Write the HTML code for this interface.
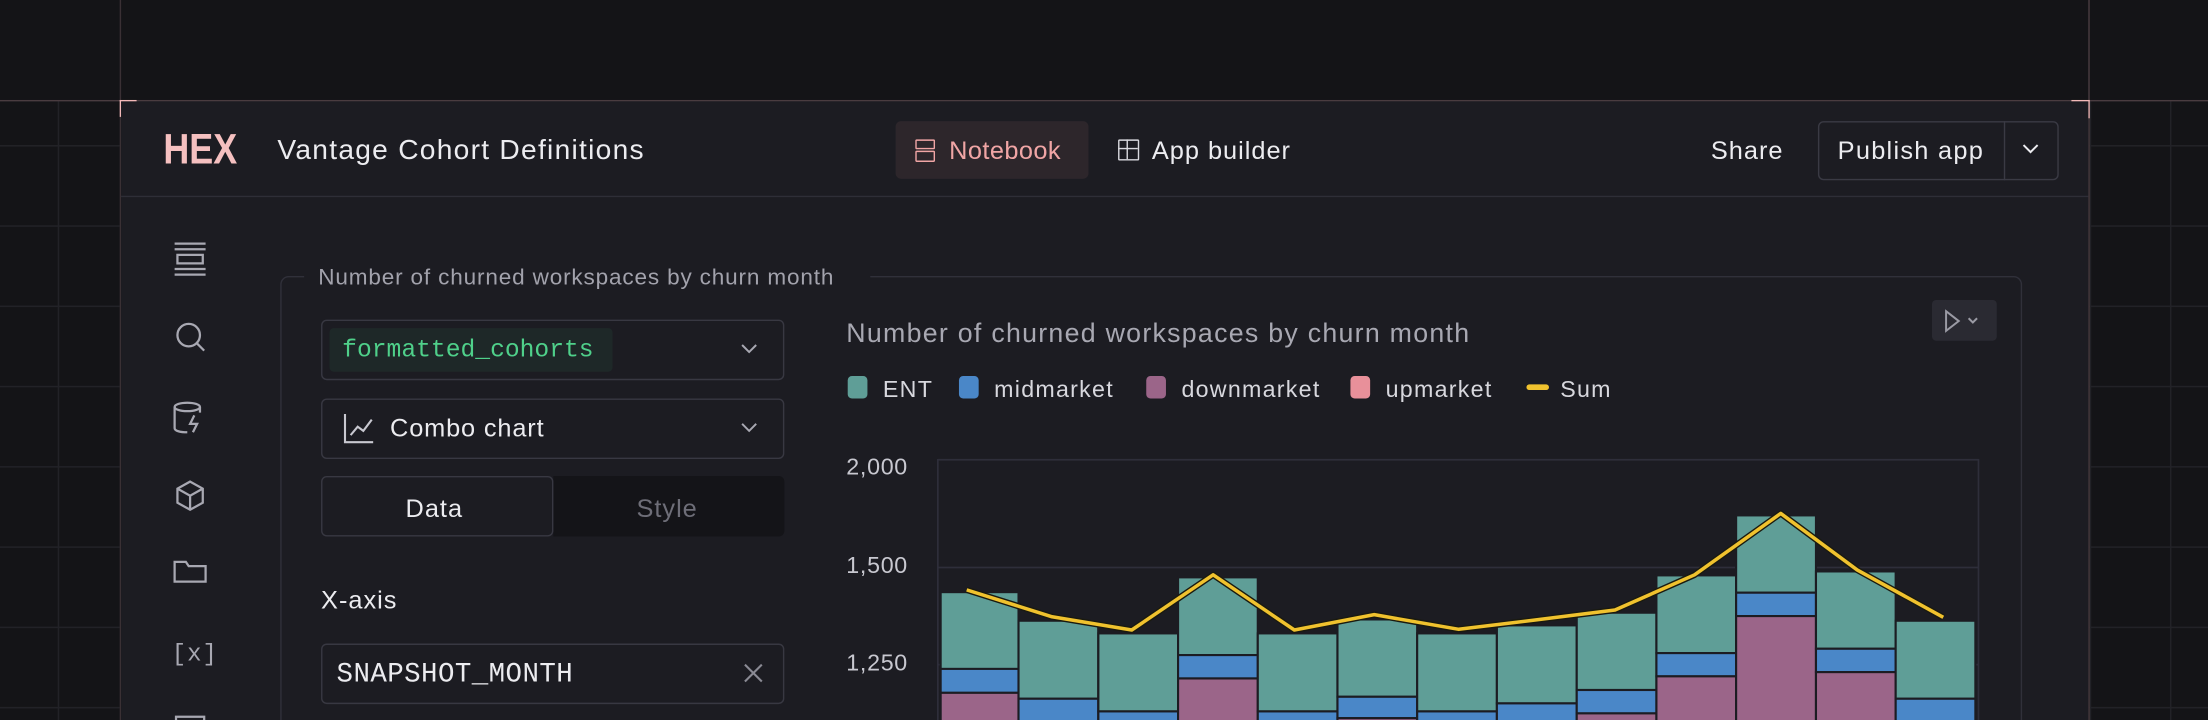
<!DOCTYPE html>
<html><head><meta charset="utf-8"><style>
html,body{margin:0;padding:0;background:#141417;width:2208px;height:720px;overflow:hidden}
#w{position:absolute;left:0;top:0;width:1568px;height:511.5px;overflow:hidden;transform:scale(1.408163);transform-origin:0 0;font-family:"Liberation Sans",sans-serif;background:#141417;letter-spacing:0.7px}
.a{position:absolute}
.grid{background-image:linear-gradient(#222227 1px,transparent 1px),linear-gradient(90deg,#222227 1px,transparent 1px);background-size:57px 57px;}
.t{position:absolute;white-space:nowrap}
.mono{font-family:"Liberation Mono",monospace;letter-spacing:0}
.box{position:absolute;border:1px solid #34343e;border-radius:4px;box-sizing:border-box}
</style></head><body><div id="w">
<div class="a grid" style="left:0;top:72px;width:85px;height:440px;background-position:41px 31px"></div>
<div class="a grid" style="left:1484px;top:72px;width:84px;height:440px;background-position:0 31px"></div>
<div class="a" style="left:0;top:71px;width:1568px;height:1px;background:#4a3c40"></div>
<div class="a" style="left:85px;top:0;width:1px;height:512px;background:#3a3034"></div>
<div class="a" style="left:1483px;top:0;width:1px;height:512px;background:#4a3c40"></div>
<div class="a" style="left:85px;top:71px;width:12px;height:1px;background:#f2b8b8"></div>
<div class="a" style="left:85px;top:71px;width:1px;height:12px;background:#f2b8b8"></div>
<div class="a" style="left:1471px;top:71px;width:13px;height:1px;background:#f2b8b8"></div>
<div class="a" style="left:1483px;top:71px;width:1px;height:13px;background:#f2b8b8"></div>
<!-- panel -->
<div class="a" style="left:86px;top:72px;width:1397px;height:440px;background:#1c1c22"></div>
<div class="a" style="left:86px;top:139px;width:1397px;height:1px;background:#2e2e37"></div>
<div class="t" style="left:116px;top:90px;font:bold 30px 'Liberation Sans Narrow','Liberation Sans';color:#f5c0c0;letter-spacing:0;transform:scaleX(0.85);transform-origin:0 0">HEX</div>
<div class="t" style="left:197px;top:96px;font-size:20px;color:#ececf0;letter-spacing:0.9px">Vantage Cohort Definitions</div>
<div class="a" style="left:636px;top:86px;width:137px;height:41px;background:#2d262b;border-radius:4px"></div>
<div class="a" style="left:650px;top:99px;width:12px;height:5px;border:1.3px solid #f0a5a5;border-radius:1px"></div>
<div class="a" style="left:650px;top:107px;width:12px;height:6px;border:1.3px solid #f0a5a5;border-radius:1px"></div>
<div class="t" style="left:674px;top:97px;font-size:18px;color:#f0a5a5;letter-spacing:0.3px">Notebook</div>
<div class="a" style="left:794px;top:99px;width:13px;height:13px;border:1.3px solid #d8d8de;border-radius:1px"></div>
<div class="a" style="left:800px;top:99px;width:1.3px;height:14px;background:#d8d8de"></div>
<div class="a" style="left:794px;top:105px;width:14px;height:1.3px;background:#d8d8de"></div>
<div class="t" style="left:818px;top:97px;font-size:18px;color:#ececf0">App builder</div>
<div class="t" style="left:1215px;top:97px;font-size:18px;color:#ececf0">Share</div>
<div class="box" style="left:1291px;top:86px;width:171px;height:42px;border-color:#3a3a44"></div>
<div class="a" style="left:1423px;top:86px;width:1px;height:42px;background:#3a3a44"></div>
<div class="t" style="left:1305px;top:97px;font-size:18px;color:#ececf0;letter-spacing:0.9px">Publish app</div>
<svg class="a" style="left:1435px;top:101px" width="14" height="10" fill="none" stroke="#ececf0" stroke-width="1.4"><path d="M2 2l5 5 5-5"/></svg>
<!-- sidebar icons -->
<svg class="a" style="left:118px;top:165px" width="34" height="360" fill="none" stroke="#a8a8b2" stroke-width="1.6">
<path d="M6 8h22M6 12h22M8 16h18v6H8zM6 26h22M6 30h22"/>
<circle cx="16" cy="73" r="8"/><path d="M22 79l5 5"/>
<ellipse cx="15" cy="124" rx="9" ry="3"/><path d="M6 124v15c0 2 4 3 9 3M24 124v4M20 130l-3 6h5l-3 6"/>
<path d="M17 177l9 5v10l-9 5-9-5v-10zM8 182l9 5 9-5M17 187v10"/>
<path d="M6 234v14h22v-11H16l-2-3z"/>
<text x="4" y="304" font-family="Liberation Mono" font-size="17" fill="#a8a8b2" stroke="none">[x]</text>
<rect x="7" y="344" width="20" height="16"/>
</svg>
<!-- fieldset -->
<div class="box" style="left:199px;top:196px;width:1237px;height:340px;border-radius:6px;border-color:#30303a"></div>
<div class="a" style="left:216px;top:186px;width:402px;height:20px;background:#1c1c22"></div>
<div class="t" style="left:226px;top:189px;font-size:16px;color:#a2a2ac;letter-spacing:0.6px">Number of churned workspaces by churn month</div>
<div class="box" style="left:228px;top:227px;width:329px;height:43px;border-color:#383842"></div>
<div class="a" style="left:234px;top:233px;width:201px;height:31px;background:#1e2828;border-radius:3px"></div>
<div class="t mono" style="left:243px;top:239px;font-size:17.5px;color:#4fd08a">formatted_cohorts</div>
<svg class="a" style="left:525px;top:243px" width="14" height="10" fill="none" stroke="#a8a8b2" stroke-width="1.4"><path d="M2 2l5 5 5-5"/></svg>
<div class="box" style="left:228px;top:283px;width:329px;height:43px;border-color:#383842"></div>
<svg class="a" style="left:243px;top:292px" width="24" height="24" fill="none" stroke="#c8c8d0" stroke-width="1.5"><path d="M2 2v20h20M6 17l5-6 4 3 6-8"/></svg>
<div class="t" style="left:277px;top:294px;font-size:18px;color:#ececf0;letter-spacing:0.6px">Combo chart</div>
<svg class="a" style="left:525px;top:299px" width="14" height="10" fill="none" stroke="#a8a8b2" stroke-width="1.4"><path d="M2 2l5 5 5-5"/></svg>
<div class="a" style="left:393px;top:338px;width:164px;height:43px;background:#141418;border-radius:0 4px 4px 0"></div>
<div class="box" style="left:228px;top:338px;width:165px;height:43px;border-color:#383842;background:#1c1c22"></div>
<div class="t" style="left:288px;top:351px;font-size:18px;color:#ececf0">Data</div>
<div class="t" style="left:452px;top:351px;font-size:18px;color:#6e6e78">Style</div>
<div class="t" style="left:228px;top:416px;font-size:18px;color:#ececf0">X-axis</div>
<div class="box" style="left:228px;top:457px;width:329px;height:43px;border-color:#383842"></div>
<div class="t mono" style="left:239px;top:468px;font-size:19.5px;color:#ececf0;letter-spacing:0.3px">SNAPSHOT_MONTH</div>
<svg class="a" style="left:527px;top:470px" width="16" height="16" fill="none" stroke="#8a8a94" stroke-width="1.5"><path d="M2 2l12 12M14 2L2 14"/></svg>
<!-- chart -->
<div class="t" style="left:601px;top:227px;font-size:19px;color:#a8a8b2;letter-spacing:0.9px">Number of churned workspaces by churn month</div>
<div class="a" style="left:1372px;top:213px;width:46px;height:29px;background:#2a2a32;border-radius:3px"></div>
<svg class="a" style="left:1380px;top:219px" width="34" height="18" fill="none" stroke="#9a9aa4" stroke-width="1.4"><path d="M2 2l9 7-9 7z"/><path d="M18 7l3 3 3-3"/></svg>
<svg class="a" style="left:590px;top:255px" width="978" height="257">
<g font-family="Liberation Sans" font-size="16.5" fill="#d8d8de" letter-spacing="0.9">
<rect x="12" y="12" width="14" height="16" rx="3" fill="#5f9e97"/><text x="37" y="27">ENT</text>
<rect x="91" y="12" width="14" height="16" rx="3" fill="#4a87c8"/><text x="116" y="27">midmarket</text>
<rect x="224" y="12" width="14" height="16" rx="3" fill="#9b6589"/><text x="249" y="27">downmarket</text>
<rect x="369" y="12" width="14" height="16" rx="3" fill="#e8909a"/><text x="394" y="27">upmarket</text>
<rect x="494" y="18" width="16" height="4" rx="2" fill="#f0c22e"/><text x="518" y="27">Sum</text>
<g fill="#c8c8d0" letter-spacing="0.5"><text x="11" y="82">2,000</text><text x="11" y="152">1,500</text><text x="11" y="221">1,250</text></g>
</g>
</svg>
<svg class="a" style="left:0;top:0" width="1568" height="512">
<g stroke="#2e2e3a" stroke-width="1.2"><line x1="666" y1="326.5" x2="1405" y2="326.5"/><line x1="666" y1="403" x2="1405" y2="403"/><line x1="666" y1="472" x2="1405" y2="472"/><line x1="666" y1="326" x2="666" y2="512"/><line x1="1405" y1="326" x2="1405" y2="512"/></g>
<g stroke="#1c1c22" stroke-width="1.5">
<rect x="668" y="420.5" width="55.3" height="55" fill="#5f9e97"/><rect x="668" y="475" width="55.3" height="17" fill="#4a87c8"/><rect x="668" y="492" width="55.3" height="30" fill="#9b6589"/>
<rect x="723.3" y="440.8" width="56.6" height="55.4" fill="#5f9e97"/><rect x="723.3" y="496.2" width="56.6" height="30" fill="#4a87c8"/>
<rect x="780" y="449.8" width="56.6" height="55.4" fill="#5f9e97"/><rect x="780" y="505.2" width="56.6" height="30" fill="#4a87c8"/>
<rect x="836.6" y="410" width="56.6" height="55.2" fill="#5f9e97"/><rect x="836.6" y="465.2" width="56.6" height="16.6" fill="#4a87c8"/><rect x="836.6" y="481.8" width="56.6" height="40" fill="#9b6589"/>
<rect x="893.2" y="449.8" width="56.6" height="55.4" fill="#5f9e97"/><rect x="893.2" y="505.2" width="56.6" height="30" fill="#4a87c8"/>
<rect x="949.8" y="439.9" width="56.6" height="54.9" fill="#5f9e97"/><rect x="949.8" y="494.8" width="56.6" height="15.2" fill="#4a87c8"/><rect x="949.8" y="510" width="56.6" height="20" fill="#9b6589"/>
<rect x="1006.4" y="449.8" width="56.6" height="55.4" fill="#5f9e97"/><rect x="1006.4" y="505.2" width="56.6" height="30" fill="#4a87c8"/>
<rect x="1063" y="444.1" width="56.7" height="55.4" fill="#5f9e97"/><rect x="1063" y="499.5" width="56.7" height="30" fill="#4a87c8"/>
<rect x="1119.7" y="435.1" width="56.6" height="54.9" fill="#5f9e97"/><rect x="1119.7" y="490" width="56.6" height="16.6" fill="#4a87c8"/><rect x="1119.7" y="506.6" width="56.6" height="20" fill="#9b6589"/>
<rect x="1176.3" y="408.6" width="56.6" height="55.2" fill="#5f9e97"/><rect x="1176.3" y="463.8" width="56.6" height="16.5" fill="#4a87c8"/><rect x="1176.3" y="480.3" width="56.6" height="40" fill="#9b6589"/>
<rect x="1232.9" y="366" width="56.7" height="54.9" fill="#5f9e97"/><rect x="1232.9" y="420.9" width="56.7" height="16.6" fill="#4a87c8"/><rect x="1232.9" y="437.5" width="56.7" height="80" fill="#9b6589"/>
<rect x="1289.6" y="405.8" width="56.6" height="54.9" fill="#5f9e97"/><rect x="1289.6" y="460.7" width="56.6" height="16.6" fill="#4a87c8"/><rect x="1289.6" y="477.3" width="56.6" height="40" fill="#9b6589"/>
<rect x="1346.2" y="440.8" width="56.6" height="55.4" fill="#5f9e97"/><rect x="1346.2" y="496.2" width="56.6" height="30" fill="#4a87c8"/>
</g>
<polyline fill="none" stroke="#1a1a10" stroke-width="4.5" stroke-linejoin="round" points="686.5,418.9 747.1,438 803.7,447.4 861.5,408.2 919.2,447.4 975.9,436.5 1035.9,446.9 1090.2,440.3 1146.9,433.2 1203.4,408.2 1264.6,364.6 1319,404.8 1380,438.4"/>
<polyline fill="none" stroke="#f0c22e" stroke-width="2.5" stroke-linejoin="round" points="686.5,418.9 747.1,438 803.7,447.4 861.5,408.2 919.2,447.4 975.9,436.5 1035.9,446.9 1090.2,440.3 1146.9,433.2 1203.4,408.2 1264.6,364.6 1319,404.8 1380,438.4"/>
</svg>
</div></body></html>
